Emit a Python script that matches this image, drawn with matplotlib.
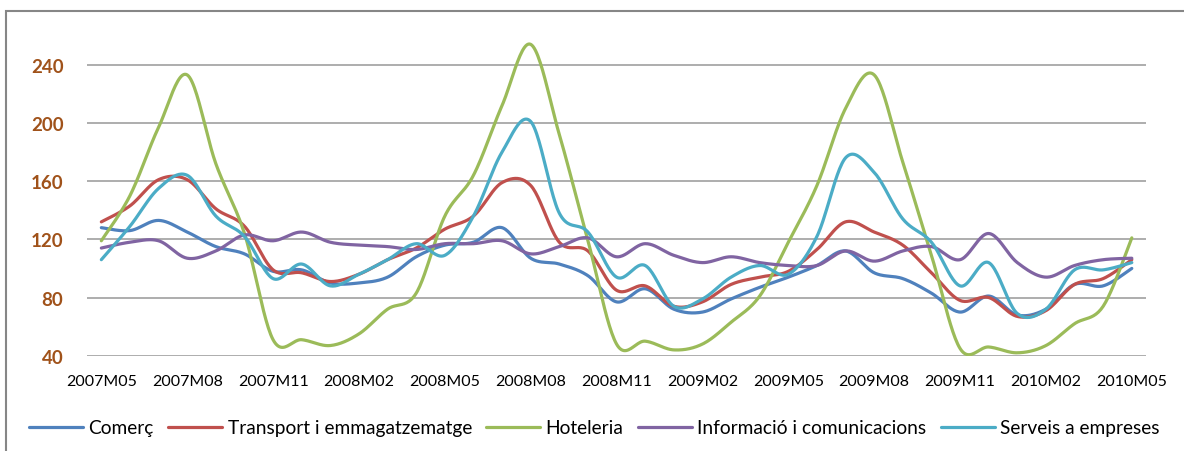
import numpy as np
import matplotlib
matplotlib.use("Agg")
import matplotlib.pyplot as plt
from matplotlib.patches import Rectangle

# Monthly index, 2007M05 .. 2010M05
months = [f"{2007 + (4 + k) // 12}M{(4 + k) % 12 + 1:02d}" for k in range(37)]
tick_labels = months[::3]

comerc = [128, 126, 133, 125, 115, 110, 98, 99, 90, 90, 94, 108, 116, 118, 128, 107, 103, 95, 77,
          86, 72, 70, 79, 87, 94, 102, 112, 97, 93, 83, 70, 81, 68, 72, 89, 88, 100]
transport = [132, 143, 161, 161, 141, 129, 99, 97, 91, 96, 106, 114, 127, 136, 159, 157, 118, 112, 85,
             88, 74, 77, 89, 94, 98, 113, 132, 125, 116, 97, 78, 80, 67, 71, 89, 93, 106]
hoteleria = [119, 150, 197, 233, 172, 124, 51, 51, 47, 55, 72, 83, 136, 164, 212, 254, 192, 119, 48,
             50, 44, 48, 63, 81, 118, 157, 210, 233, 173, 109, 45, 46, 42, 47, 62, 74, 121]
informacio = [114, 118, 119, 107, 112, 123, 119, 125, 118, 116, 115, 113, 117, 117, 119, 110, 115, 121, 108,
              117, 109, 104, 108, 104, 102, 102, 112, 105, 112, 115, 106, 124, 104, 94, 102, 106, 107]
serveis = [106, 129, 155, 164, 136, 122, 93, 103, 88, 96, 106, 117, 109, 136, 180, 201, 138, 125, 94,
           102, 74, 79, 94, 102, 96, 122, 176, 166, 134, 118, 88, 104, 69, 72, 99, 99, 104]

series_names = ["Comerç", "Transport i emmagatzematge", "Hoteleria",
                "Informació i comunicacions", "Serveis a empreses"]
series_values = [comerc, transport, hoteleria, informacio, serveis]
colors = ["#4F81BD", "#C0504D", "#9BBB59", "#8064A2", "#4BACC6"]


def smooth(y, n=24):
    # Excel-style smoothed line: Catmull-Rom segments drawn as cubic Beziers
    y = np.asarray(y, dtype=float)
    x = np.arange(len(y), dtype=float)
    xp = np.concatenate([[x[0]], x, [x[-1]]])
    yp = np.concatenate([[y[0]], y, [y[-1]]])
    t = np.linspace(0, 1, n, endpoint=False)
    xs, ys = [], []
    for i in range(len(y) - 1):
        for arr, out in ((xp, xs), (yp, ys)):
            p0, p1, p2, p3 = arr[i], arr[i + 1], arr[i + 2], arr[i + 3]
            c1 = p1 + (p2 - p0) / 6
            c2 = p2 - (p3 - p1) / 6
            out.append((1 - t) ** 3 * p1 + 3 * (1 - t) ** 2 * t * c1 + 3 * (1 - t) * t ** 2 * c2 + t ** 3 * p2)
    xs.append([x[-1]])
    ys.append([y[-1]])
    return np.concatenate(xs), np.concatenate(ys)


def main():
    plt.rcParams['font.family'] = ['Lato', 'DejaVu Sans']
    fig = plt.figure(figsize=(11.84, 4.52), dpi=100)
    ax = fig.add_axes([0.0735, 0.2108, 0.8945, 0.7146])

    for name, vals, col in zip(series_names, series_values, colors):
        xs, ys = smooth(vals)
        ax.plot(xs, ys, color=col, lw=2.3, label=name, solid_capstyle='round')

    ax.set_xlim(-0.5, len(months) - 0.5)
    ax.set_ylim(40, 262)
    ax.set_yticks([40, 80, 120, 160, 200, 240])
    ax.yaxis.grid(True, color="#A0A0A0", lw=1.2)
    ax.set_axisbelow(True)
    ax.set_xticks(range(0, len(months), 3))
    ax.set_xticklabels(tick_labels, fontsize=11.5)
    for s in ax.spines.values():
        s.set_visible(False)
    ax.tick_params(axis='x', length=0, pad=13)
    ax.tick_params(axis='y', length=0, pad=17, labelsize=13.5, labelcolor="#A0521A")
    for lbl in ax.get_yticklabels():
        lbl.set_fontweight('bold')

    fig.legend(loc='center', bbox_to_anchor=(0.502, 0.051), ncol=5, frameon=False,
               fontsize=13.8, handlelength=2.8, handletextpad=0.3, columnspacing=0.75)

    # outer chart border (only top and left edges are visible in the crop)
    fig.patches.append(Rectangle((6 / 1184, -0.2), 1.2, 1.2 - 12 / 452,
                                 transform=fig.transFigure, fill=False,
                                 edgecolor="#868686", lw=1.5))

    fig.savefig("out.png", dpi=100)


if __name__ == "__main__":
    main()
